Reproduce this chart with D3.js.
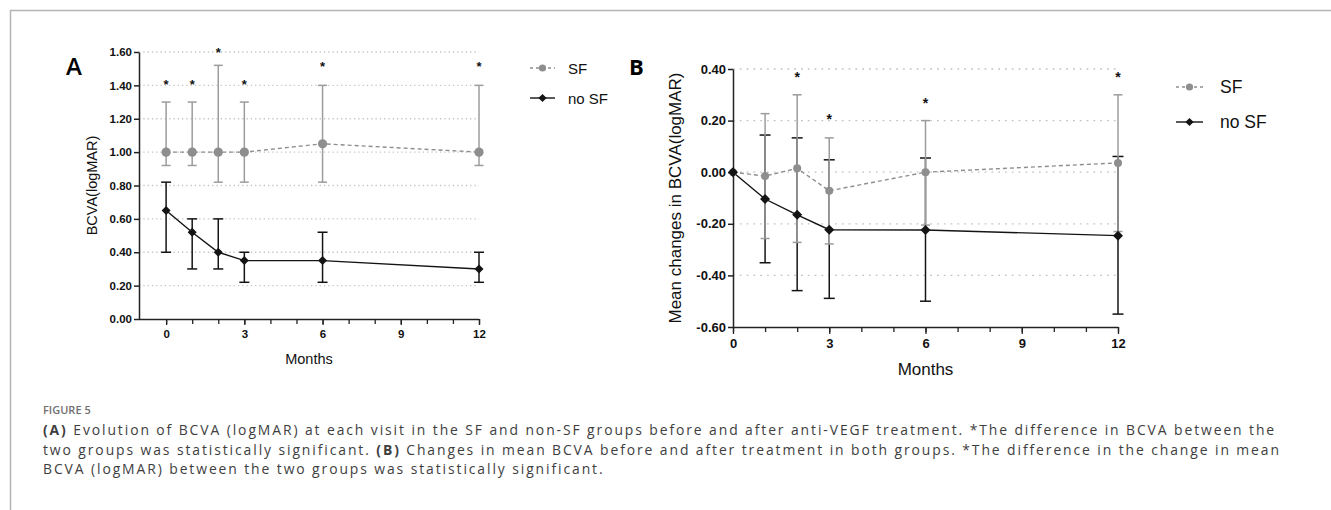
<!DOCTYPE html>
<html>
<head>
<meta charset="utf-8">
<script src="https://cdn.jsdelivr.net/npm/d3@7/dist/d3.min.js"></script>
<style>
    body { margin: 0; background: #fff; }
    svg { display: block; }
</style>
</head>
<body>
<svg id="figure" width="1331" height="510"></svg>
<script>
// visit months shared by both panels
const months = [0, 1, 2, 3, 6, 12];
const monthTicks = [0, 3, 6, 9, 12];

// panel A: BCVA (logMAR)
const aTicks = [0, 0.2, 0.4, 0.6, 0.8, 1.0, 1.2, 1.4, 1.6];
const aSfMean = [1.00, 1.00, 1.00, 1.00, 1.05, 1.00];
const aSfUpper = [1.30, 1.30, 1.52, 1.30, 1.40, 1.40];
const aSfLower = [0.92, 0.92, 0.82, 0.82, 0.82, 0.92];
const aNoSfMean = [0.65, 0.52, 0.40, 0.35, 0.35, 0.30];
const aNoSfUpper = [0.82, 0.60, 0.60, 0.40, 0.52, 0.40];
const aNoSfLower = [0.40, 0.30, 0.30, 0.22, 0.22, 0.22];
const aStarMonths = [0, 1, 2, 3, 6, 12];
const aStarValues = [1.42, 1.42, 1.61, 1.42, 1.53, 1.53];

// panel B: mean change in BCVA (logMAR)
const bTicks = [-0.6, -0.4, -0.2, 0, 0.2, 0.4];
const bSfMean = [0, -0.015, 0.015, -0.072, 0.00, 0.036];
const bSfUpper = [null, 0.227, 0.30, 0.133, 0.20, 0.30];
const bSfLower = [null, -0.257, -0.272, -0.278, -0.205, -0.23];
const bNoSfMean = [0, -0.104, -0.165, -0.223, -0.224, -0.246];
const bNoSfUpper = [null, 0.144, 0.133, 0.048, 0.055, 0.061];
const bNoSfLower = [null, -0.351, -0.459, -0.489, -0.50, -0.55];
const bStarMonths = [2, 3, 6, 12];
const bStarValues = [0.378, 0.216, 0.278, 0.378];

const seriesNames = ['SF', 'no SF'];

const captionTitle = 'FIGURE 5';
const captionLines = [
    [['(A)', true], [' Evolution of BCVA (logMAR) at each visit in the SF and non-SF groups before and after anti-VEGF treatment. *The difference in BCVA between the', false]],
    [['two groups was statistically significant. ', false], ['(B)', true], [' Changes in mean BCVA before and after treatment in both groups. *The difference in the change in mean', false]],
    [['BCVA (logMAR) between the two groups was statistically significant.', false]]
];

const SF_COLOR = '#8e8e8e';
const SF_BAR = '#9c9c9c';
const NOSF_COLOR = '#141414';
const AXIS_COLOR = '#222';
const FONT = '"Liberation Sans", Arial, sans-serif';

const svg = d3.select('#figure');

// card border (top and left)
svg.append('path')
    .attr('d', 'M10.5,510 L10.5,10.5 L1331,10.5')
    .attr('fill', 'none')
    .attr('stroke', '#b4b4b4')
    .attr('stroke-width', 1.5);

const drawPanel = cfg => {
    const { x, y, g } = cfg;
    const [x0, x1] = x.range();
    const [yBottom, yTop] = y.range();

    // dotted grid
    g.append('g')
        .selectAll('line')
        .data(cfg.gridValues)
        .join('line')
        .attr('x1', x0)
        .attr('x2', x1)
        .attr('y1', d => y(d))
        .attr('y2', d => y(d))
        .attr('stroke', '#c4c4c4')
        .attr('stroke-width', 1.3)
        .attr('stroke-dasharray', cfg.gridDash);

    // y axis
    const yAxis = g.append('g')
        .attr('transform', `translate(${x0},0)`)
        .call(d3.axisLeft(y).tickValues(cfg.yTicks).tickFormat(d => d.toFixed(2)).tickSize(5).tickSizeOuter(0));
    yAxis.select('.domain').attr('stroke', AXIS_COLOR).attr('stroke-width', 1.5);
    yAxis.selectAll('.tick line').attr('stroke', AXIS_COLOR).attr('stroke-width', 1.5);
    yAxis.selectAll('.tick text')
        .attr('font-family', FONT)
        .attr('font-weight', 'bold')
        .attr('font-size', cfg.tickFont)
        .attr('fill', '#111')
        .attr('x', -7);

    // x axis: minor ticks every month, labelled ticks every 3 months
    const xMinor = g.append('g')
        .attr('transform', `translate(0,${yBottom})`)
        .call(d3.axisBottom(x).tickValues(d3.range(0, 13)).tickFormat('').tickSize(cfg.minorTick).tickSizeOuter(0));
    xMinor.select('.domain').attr('stroke', AXIS_COLOR).attr('stroke-width', 1.5)
        .attr('d', `M${x0},0.5H${x1}`);
    xMinor.selectAll('.tick line').attr('stroke', AXIS_COLOR).attr('stroke-width', 1.3);

    const xMajor = g.append('g')
        .attr('transform', `translate(0,${yBottom})`)
        .call(d3.axisBottom(x).tickValues(monthTicks).tickSize(cfg.majorTick).tickSizeOuter(0));
    xMajor.select('.domain').remove();
    xMajor.selectAll('.tick line').attr('stroke', AXIS_COLOR).attr('stroke-width', 1.3);
    xMajor.selectAll('.tick text')
        .attr('font-family', FONT)
        .attr('font-weight', 'bold')
        .attr('font-size', cfg.tickFont)
        .attr('fill', '#111')
        .attr('y', cfg.majorTick + 5);

    // axis titles
    g.append('text')
        .attr('x', (x0 + x1) / 2)
        .attr('y', cfg.xTitleY)
        .attr('text-anchor', 'middle')
        .attr('font-family', FONT)
        .attr('font-size', cfg.titleFont)
        .attr('fill', '#111')
        .text('Months');

    g.append('text')
        .attr('transform', `translate(${cfg.yTitleX},${(yBottom + yTop) / 2}) rotate(-90)`)
        .attr('text-anchor', 'middle')
        .attr('dominant-baseline', 'central')
        .attr('font-family', FONT)
        .attr('font-size', cfg.titleFont)
        .attr('fill', '#111')
        .text(cfg.yTitle);

    // panel letter
    g.append('text')
        .attr('x', cfg.letterX)
        .attr('y', cfg.letterY)
        .attr('font-family', '"Open Sans", "Liberation Sans", sans-serif')
        .attr('font-weight', cfg.letterWeight)
        .attr('font-size', cfg.letterFont)
        .attr('fill', '#000')
        .text(cfg.letter);

    const errorBars = (upper, lower, color, cap) => {
        const pts = months.map((m, i) => ({ m, u: upper[i], l: lower[i] })).filter(d => d.u !== null);
        const bars = g.append('g').attr('stroke', color).attr('stroke-width', 1.5).attr('fill', 'none');
        bars.selectAll('line.v').data(pts).join('line')
            .attr('x1', d => x(d.m)).attr('x2', d => x(d.m))
            .attr('y1', d => y(d.u)).attr('y2', d => y(d.l));
        bars.selectAll('line.cu').data(pts).join('line')
            .attr('x1', d => x(d.m) - cap).attr('x2', d => x(d.m) + cap)
            .attr('y1', d => y(d.u)).attr('y2', d => y(d.u));
        bars.selectAll('line.cl').data(pts).join('line')
            .attr('x1', d => x(d.m) - cap).attr('x2', d => x(d.m) + cap)
            .attr('y1', d => y(d.l)).attr('y2', d => y(d.l));
    };

    errorBars(cfg.noSf.upper, cfg.noSf.lower, NOSF_COLOR, cfg.noSfCap);
    errorBars(cfg.sf.upper, cfg.sf.lower, SF_BAR, cfg.sfCap);

    const line = d3.line().x((d, i) => x(months[i])).y(d => y(d));

    g.append('path')
        .attr('d', line(cfg.sf.mean))
        .attr('fill', 'none')
        .attr('stroke', SF_COLOR)
        .attr('stroke-width', 1.4)
        .attr('stroke-dasharray', '4,3');

    g.append('path')
        .attr('d', line(cfg.noSf.mean))
        .attr('fill', 'none')
        .attr('stroke', NOSF_COLOR)
        .attr('stroke-width', 1.4);

    g.append('g').selectAll('circle')
        .data(cfg.sf.mean)
        .join('circle')
        .attr('cx', (d, i) => x(months[i]))
        .attr('cy', d => y(d))
        .attr('r', cfg.circleR)
        .attr('fill', SF_COLOR);

    const dm = cfg.diamond;
    g.append('g').selectAll('path')
        .data(cfg.noSf.mean)
        .join('path')
        .attr('transform', (d, i) => `translate(${x(months[i])},${y(d)})`)
        .attr('d', `M0,${-dm}L${dm},0L0,${dm}L${-dm},0Z`)
        .attr('fill', NOSF_COLOR);

    // significance marks
    g.append('g').selectAll('text')
        .data(cfg.starMonths)
        .join('text')
        .attr('x', d => x(d))
        .attr('y', (d, i) => y(cfg.starValues[i]) + cfg.starFont * 0.55)
        .attr('text-anchor', 'middle')
        .attr('font-family', FONT)
        .attr('font-weight', 'bold')
        .attr('font-size', cfg.starFont)
        .attr('fill', '#111')
        .text('*');

    // legend
    const lg = g.append('g');
    seriesNames.forEach((name, i) => {
        const ly = cfg.legendY[i];
        const [lx0, lx1] = cfg.legendLine;
        const mx = (lx0 + lx1) / 2;
        const isSf = i === 0;
        lg.append('line')
            .attr('x1', lx0).attr('x2', lx1)
            .attr('y1', ly).attr('y2', ly)
            .attr('stroke', isSf ? SF_COLOR : NOSF_COLOR)
            .attr('stroke-width', 1.4)
            .attr('stroke-dasharray', isSf ? '3,3' : null);
        if (isSf) {
            lg.append('circle').attr('cx', mx).attr('cy', ly).attr('r', cfg.legendMarker).attr('fill', SF_COLOR);
        } else {
            const s = cfg.legendMarker + 0.5;
            lg.append('path')
                .attr('transform', `translate(${mx},${ly})`)
                .attr('d', `M0,${-s}L${s},0L0,${s}L${-s},0Z`)
                .attr('fill', NOSF_COLOR);
        }
        lg.append('text')
            .attr('x', cfg.legendTextX)
            .attr('y', ly)
            .attr('dominant-baseline', 'central')
            .attr('font-family', FONT)
            .attr('font-size', cfg.legendFont)
            .attr('fill', '#111')
            .text(name);
    });
};

drawPanel({
    g: svg.append('g'),
    x: d3.scaleLinear().domain([-1.04, 12]).range([139, 479]),
    y: d3.scaleLinear().domain([0, 1.6]).range([319, 52]),
    yTicks: aTicks,
    gridValues: aTicks.filter(d => d > 0),
    gridDash: '1.3,3',
    tickFont: 11.5,
    minorTick: 5,
    majorTick: 6,
    titleFont: 14.5,
    xTitleY: 364,
    yTitleX: 92,
    yTitle: 'BCVA(logMAR)',
    letter: 'A',
    letterX: 66,
    letterY: 75,
    letterFont: 24,
    letterWeight: 600,
    sf: { mean: aSfMean, upper: aSfUpper, lower: aSfLower },
    noSf: { mean: aNoSfMean, upper: aNoSfUpper, lower: aNoSfLower },
    sfCap: 4.5,
    noSfCap: 5,
    circleR: 4.6,
    diamond: 4.5,
    starMonths: aStarMonths,
    starValues: aStarValues,
    starFont: 13,
    legendY: [68, 98],
    legendLine: [530, 555],
    legendMarker: 3.6,
    legendTextX: 568,
    legendFont: 15
});

drawPanel({
    g: svg.append('g'),
    x: d3.scaleLinear().domain([0, 12]).range([733, 1118]),
    y: d3.scaleLinear().domain([-0.6, 0.4]).range([327, 69]),
    yTicks: bTicks,
    gridValues: bTicks.filter(d => d > -0.6),
    gridDash: '1.8,5',
    tickFont: 13,
    minorTick: 5,
    majorTick: 7,
    titleFont: 17,
    xTitleY: 375,
    yTitleX: 675,
    yTitle: 'Mean changes in BCVA(logMAR)',
    letter: 'B',
    letterX: 629,
    letterY: 75,
    letterFont: 22,
    letterWeight: 'bold',
    sf: { mean: bSfMean, upper: bSfUpper, lower: bSfLower },
    noSf: { mean: bNoSfMean, upper: bNoSfUpper, lower: bNoSfLower },
    sfCap: 4.5,
    noSfCap: 5.5,
    circleR: 4,
    diamond: 5,
    starMonths: bStarMonths,
    starValues: bStarValues,
    starFont: 14,
    legendY: [87, 122],
    legendLine: [1176, 1203],
    legendMarker: 3.6,
    legendTextX: 1220,
    legendFont: 17.5
});

// caption
const CAPTION_FONT = '"Open Sans", "DejaVu Sans", sans-serif';
const CAPTION_SIZE = 13.9;
svg.append('text')
    .attr('x', 43)
    .attr('y', 414)
    .attr('font-family', CAPTION_FONT)
    .attr('font-weight', 600)
    .attr('font-size', 11)
    .attr('fill', '#707070')
    .text(captionTitle);

const captionTexts = captionLines.map((parts, li) => {
    const t = svg.append('text')
        .attr('x', 43)
        .attr('y', 435 + li * 19.6)
        .attr('font-family', CAPTION_FONT)
        .attr('font-size', CAPTION_SIZE)
        .attr('fill', '#3e3e3e');
    parts.forEach(([str, bold]) => {
        t.append('tspan')
            .attr('font-weight', bold ? 700 : 400)
            .text(str);
    });
    return t;
});

// spread the caption letters so the first line fills the printed width
const firstNode = captionTexts[0].node();
const firstChars = firstNode.textContent.length;
const spacing = Math.max(0, (1233 - firstNode.getComputedTextLength()) / firstChars);
captionTexts.forEach(t => t.attr('letter-spacing', spacing.toFixed(3)));
</script>
</body>
</html>
